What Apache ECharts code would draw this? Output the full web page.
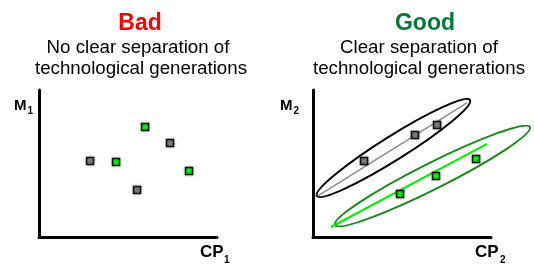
<!DOCTYPE html>
<html><head><meta charset="utf-8">
<script src="https://cdn.jsdelivr.net/npm/echarts@6/dist/echarts.min.js"></script>
<style>html,body{margin:0;padding:0;background:#fff}#c{width:534px;height:266px}</style>
</head><body><div id="c"></div>
<script>
// Data (axes scaled 0..100)
const leftGray = [[28.7,51.7],[73.6,63.9],[55.1,32.0]];
const leftGreen = [[43.3,51.0],[59.6,74.8],[84.3,44.9]];
const rightGray = [[28.7,51.7],[57.3,69.4],[69.7,76.2]];
const rightGreen = [[48.9,29.3],[69.1,41.5],[91.6,53.1]];
const grayTrend = [[2.8,27.9],[86.5,91.2]];
const greenTrend = [[10.1,6.8],[97.8,63.3]];
// ellipse: [tip1x, tip1y, tip2x, tip2y]
const grayEllipse = [[2.2,27.9,88.2,93.2]];
const greenEllipse = [[12.4,8.2,121.9,74.8]];

const titles = {
  left: {head: 'Bad', line1: 'No clear separation of', line2: 'technological generations'},
  right: {head: 'Good', line1: 'Clear separation of', line2: 'technological generations'}
};

const FONT = '"Liberation Sans", Arial, sans-serif';
const chart = echarts.init(document.getElementById('c'), null, {renderer: 'canvas'});

function axis(gi){
  return {type:'value', gridIndex:gi, min:0, max:100, show:true,
    axisLine:{show:true, onZero:false, lineStyle:{color:'#000', width:3}},
    axisTick:{show:false}, axisLabel:{show:false}, splitLine:{show:false}};
}
function ellipseSeries(data, gi, color, ry, lw){
  return {type:'custom', xAxisIndex:gi, yAxisIndex:gi, clip:false, z:2, data:data,
    renderItem:function(params, api){
      const p1 = api.coord([api.value(0), api.value(1)]);
      const p2 = api.coord([api.value(2), api.value(3)]);
      const dx = p2[0]-p1[0], dy = p2[1]-p1[1];
      const rx = Math.sqrt(dx*dx+dy*dy)/2;
      const ang = Math.atan2(dy, dx);
      return {type:'ellipse', x:(p1[0]+p2[0])/2, y:(p1[1]+p2[1])/2, rotation:-ang,
        shape:{cx:0, cy:0, rx:rx, ry:ry},
        style:{fill:'none', stroke:color, lineWidth:lw}};
    }};
}
function lineSeries(data, gi, color, w){
  return {type:'line', xAxisIndex:gi, yAxisIndex:gi, data:data, symbol:'none', z:3,
    lineStyle:{color:color, width:w}, silent:true};
}
function pts(data, gi, color){
  return {type:'scatter', xAxisIndex:gi, yAxisIndex:gi, data:data, symbol:'rect', symbolSize:7, z:5,
    itemStyle:{color:color, borderColor:'#111', borderWidth:1.5, shadowColor:'rgba(0,0,0,0.35)', shadowBlur:3, opacity:1}};
}
function txt(x, y, s, size, bold, color, align){
  return {type:'text', x:x, y:y, style:{text:s, font:(bold?'bold ':'')+size+'px '+FONT,
    fill:color||'#000', textAlign:align||'left', textVerticalAlign:'bottom'}};
}

chart.setOption({
  animation:false,
  grid:[{left:39, top:90, width:178, height:147}, {left:313, top:90, width:178, height:147}],
  xAxis:[axis(0), axis(1)],
  yAxis:[axis(0), axis(1)],
  series:[
    pts(leftGray, 0, '#808080'),
    pts(leftGreen, 0, '#00ff00'),
    ellipseSeries(grayEllipse, 1, '#000', 12, 2),
    ellipseSeries(greenEllipse, 1, '#1a8a1a', 13, 2),
    lineSeries(grayTrend, 1, '#8c8c8c', 1.5),
    lineSeries(greenTrend, 1, '#00ee00', 2),
    pts(rightGray, 1, '#808080'),
    pts(rightGreen, 1, '#00ff00')
  ],
  graphic:[
    txt(140, 35, titles.left.head, 23, true, '#ff0000', 'center'),
    txt(138, 57, titles.left.line1, 18.7, false, '#000', 'center'),
    txt(141, 78, titles.left.line2, 18.7, false, '#000', 'center'),
    txt(425, 35, titles.right.head, 23, true, '#007a33', 'center'),
    txt(419, 57, titles.right.line1, 18.7, false, '#000', 'center'),
    txt(419, 78, titles.right.line2, 18.7, false, '#000', 'center'),
    txt(14, 113, 'M', 15, true), txt(27.5, 116, '1', 10, true),
    txt(280, 113, 'M', 15, true), txt(293.5, 116, '2', 10, true),
    txt(200, 261, 'CP', 17, true), txt(224, 265, '1', 10, true),
    txt(475, 261, 'CP', 17, true), txt(500, 265, '2', 10, true)
  ]
});
</script></body></html>
